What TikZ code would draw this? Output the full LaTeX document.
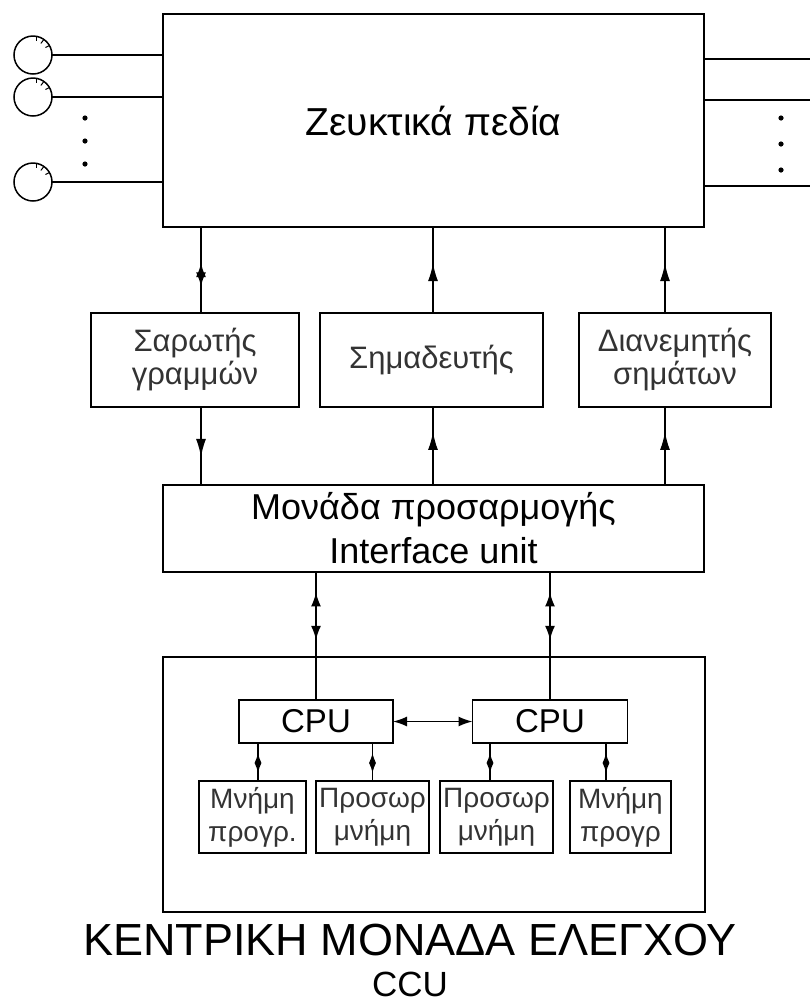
\documentclass[tikz,border=0pt]{standalone}
\usepackage{fontspec}
\setmainfont{Liberation Sans}
\usetikzlibrary{arrows.meta,decorations.markings}

\begin{document}
\begin{tikzpicture}[
  x=1pt, y=-1pt,
  line width=1.5pt,
  box/.style={draw, rectangle, inner sep=0pt, outer sep=0pt},
  thin text/.style={text=black!80, align=center},
  big/.style={font=\fontsize{36}{44}\selectfont, align=center},
  unitname/.style={font=\fontsize{31}{33}\selectfont, thin text},
  memname/.style={font=\fontsize{28}{33}\selectfont, thin text},
  phone/.style={draw, circle, minimum size=38pt, inner sep=0pt, outer sep=0pt},
  upmark/.style={postaction={decorate}, decoration={markings,
    mark=at position #1 with {\arrow{Latex[length=18pt,width=10pt]}}}},
  bothmark/.style n args={2}{postaction={decorate}, decoration={markings,
    mark=at position #1 with {\arrow{Latex[length=14pt,width=10pt]}},
    mark=at position #2 with {\arrowreversed{Latex[length=14pt,width=10pt]}}}},
  smallboth/.style={postaction={decorate}, decoration={markings,
    mark=at position 0.74 with {\arrow{Latex[length=10pt,width=7pt]}},
    mark=at position 0.21 with {\arrowreversed{Latex[length=10pt,width=7pt]}}}}
]
\useasboundingbox (0,0) rectangle (810,1005);

% switching field
\node[box, big, font=\fontsize{39}{44}\selectfont, minimum width=541pt, minimum height=213pt] (zf) at (433.5,120.5) {Ζευκτικά πεδία};

% subscriber lines
\foreach \n/\y in {1/55, 2/97, 3/182} {
  \node[phone] (ph\n) at (33,\y) {};
  \draw (ph\n.east) -- (ph\n.east -| zf.west);
  \draw[line width=1pt] (ph\n.80) -- ++(0,5);
  \draw[line width=1pt] (ph\n.55) -- ++(-3,4);
  \draw[line width=1pt] (ph\n.30) -- ++(-4,2);
}
\foreach \y in {118, 141, 164} \fill (85,\y) circle (2.6pt);

% trunk lines
\foreach \n/\y in {1/59, 2/100, 3/186} {
  \coordinate (tr\n) at (810,\y);
  \draw (zf.east |- tr\n) -- (tr\n);
}
\foreach \y in {118, 144, 170} \fill (781,\y) circle (2.6pt);

% scanner, marker, distributor
\node[box, unitname, minimum width=208pt, minimum height=94pt] (sar) at (195,360) {Σαρωτής\\γραμμών};
\node[box, unitname, minimum width=223pt, minimum height=94pt] (sim) at (431.5,360) {Σημαδευτής};
\node[box, unitname, minimum width=192pt, minimum height=94pt] (dia) at (675,360) {Διανεμητής\\σημάτων};

% interface unit
\node[box, big, minimum width=541pt, minimum height=87pt] (iu) at (433.5,528.5) {Μονάδα προσαρμογής\\Interface unit};

\coordinate (sarx) at ([xshift=6pt]sar.north);
\coordinate (simx) at ([xshift=1.5pt]sim.north);
\coordinate (diax) at ([xshift=-10pt]dia.north);
\draw[bothmark={0.58}{0.31}] (sarx) -- (sarx |- zf.south);
\draw[upmark=0.58] (simx) -- (simx |- zf.south);
\draw[upmark=0.58] (diax) -- (diax |- zf.south);
\draw[upmark=0.64] (sarx |- sar.south) -- (sarx |- iu.north);
\draw[upmark=0.68] (simx |- iu.north) -- (simx |- sim.south);
\draw[upmark=0.68] (diax |- iu.north) -- (diax |- dia.south);

% central control unit
\node[box, minimum width=542pt, minimum height=255pt] (ccu) at (434,784.5) {};
\node[box, font=\fontsize{33}{36}\selectfont, minimum width=154pt, minimum height=43pt] (cpu1) at (316,721.5) {CPU};
\node[box, font=\fontsize{33}{36}\selectfont, minimum width=155pt, minimum height=43pt] (cpu2) at (550,721.5) {CPU};
\draw[{Latex[length=14pt,width=10pt]}-{Latex[length=14pt,width=10pt]}] (cpu1.east) -- (cpu2.west);
\draw[bothmark={0.84}{0.47}] (cpu1.north) -- (cpu1.north |- iu.south);
\draw[bothmark={0.84}{0.47}] (cpu2.north) -- (cpu2.north |- iu.south);

\node[box, memname, minimum width=107pt, minimum height=72pt] (mem1) at (252.5,817) {Μνήμη\\προγρ.};
\node[box, memname, minimum width=113pt, minimum height=72pt] (mem2) at (372.5,817) {Προσωρ\\μνήμη};
\node[box, memname, minimum width=113pt, minimum height=72pt] (mem3) at (496.5,817) {Προσωρ\\μνήμη};
\node[box, memname, minimum width=101pt, minimum height=72pt] (mem4) at (620.5,817) {Μνήμη\\προγρ};

\coordinate (m1x) at ([xshift=5.5pt]mem1.north);
\coordinate (m2x) at (mem2.north);
\coordinate (m3x) at ([xshift=-6.5pt]mem3.north);
\coordinate (m4x) at ([xshift=-14.5pt]mem4.north);
\draw[smallboth] (m1x) -- (m1x |- cpu1.south);
\draw[smallboth] (m2x) -- (m2x |- cpu1.south);
\draw[smallboth] (m3x) -- (m3x |- cpu2.south);
\draw[smallboth] (m4x) -- (m4x |- cpu2.south);

\node[font=\fontsize{45}{50}\selectfont] (ccuname) at (410,940) {ΚΕΝΤΡΙΚΗ ΜΟΝΑΔΑ ΕΛΕΓΧΟΥ};
\node[font=\fontsize{35}{40}\selectfont] (ccuabbr) at (410,984) {CCU};
\end{tikzpicture}
\end{document}
